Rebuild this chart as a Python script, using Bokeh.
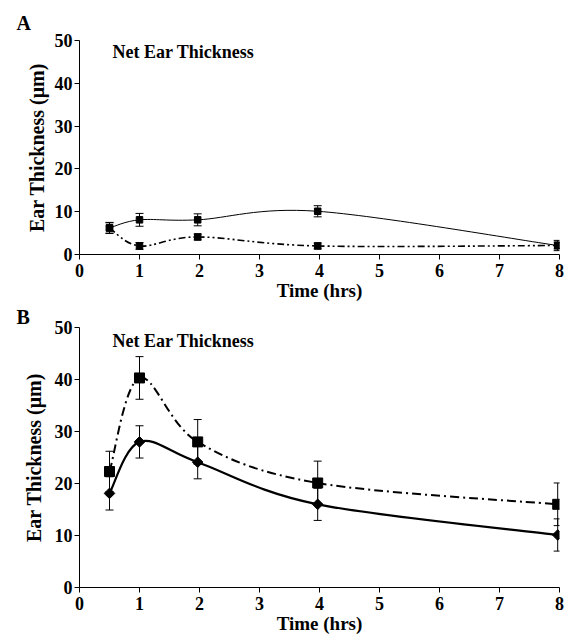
import math
from bokeh.plotting import figure
from bokeh.models import Whisker, ColumnDataSource, Label, FixedTicker, Range1d
from bokeh.layouts import column
from bokeh.embed import file_html
from bokeh.resources import INLINE

# ---------------- data ----------------
times = [0.5, 1.0, 1.97, 3.97, 7.97]

# Panel A
a_solid = [6.2, 8.1, 8.1, 10.1, 2.1]
a_solid_err = [1.3, 1.5, 1.4, 1.3, 1.2]
a_dash = [6.2, 2.0, 4.1, 2.0, 2.1]
a_dash_err = [1.2, 0.8, 0.7, 0.7, 0.8]

# Panel B
b_square = [22.3, 40.3, 28.0, 20.1, 16.0]
b_square_err = [3.9, 4.1, 4.3, 4.2, 4.1]
b_diamond = [18.1, 28.0, 24.1, 16.0, 10.1]
b_diamond_err = [3.2, 3.1, 3.2, 3.1, 3.1]

x_ticks = [0, 1, 2, 3, 4, 5, 6, 7, 8]
y_ticks = [0, 10, 20, 30, 40, 50]

FONT = "Liberation Serif"


def smooth_segments(xs, ys):
    """Bezier control points for a smoothed line through the data points."""
    n = len(xs)
    out = dict(x0=[], y0=[], x1=[], y1=[], cx0=[], cy0=[], cx1=[], cy1=[])
    for i in range(n - 1):
        xp, yp = (xs[i - 1], ys[i - 1]) if i > 0 else (xs[i], ys[i])
        xn, yn = (xs[i + 2], ys[i + 2]) if i + 2 < n else (xs[i + 1], ys[i + 1])
        out["x0"].append(xs[i]); out["y0"].append(ys[i])
        out["x1"].append(xs[i + 1]); out["y1"].append(ys[i + 1])
        out["cx0"].append(xs[i] + (xs[i + 1] - xp) / 6.0)
        out["cy0"].append(ys[i] + (ys[i + 1] - yp) / 6.0)
        out["cx1"].append(xs[i + 1] - (xn - xs[i]) / 6.0)
        out["cy1"].append(ys[i + 1] - (yn - ys[i]) / 6.0)
    return ColumnDataSource(out)


def make_fig(label, title_offset, title_standoff, text_y, height, left, top, bottom,
             ylab_standoff):
    p = figure(width=564, height=height, output_backend="svg", toolbar_location=None,
               title=label, x_range=Range1d(0, 8), y_range=Range1d(0, 50),
               min_border_left=left, min_border_right=5,
               min_border_top=top, min_border_bottom=bottom)
    # panel letter as the plot title, pulled to the left edge
    p.title.align = "left"
    p.title.offset = title_offset
    p.title.text_font = FONT
    p.title.text_font_size = "20px"
    p.title.text_font_style = "bold"
    p.title.text_color = "black"
    try:
        p.title.standoff = title_standoff
    except AttributeError:
        pass
    p.outline_line_color = None
    p.xgrid.grid_line_color = None
    p.ygrid.grid_line_color = None
    for ax in (p.xaxis[0], p.yaxis[0]):
        ax.axis_line_color = "black"
        ax.major_tick_line_color = "black"
        ax.minor_tick_line_color = None
        ax.major_tick_in = 0
        ax.major_tick_out = 5
        ax.major_label_text_font = FONT
        ax.major_label_text_font_size = "18px"
        ax.major_label_text_font_style = "bold"
        ax.major_label_text_color = "black"
        ax.axis_label_text_font = FONT
        ax.axis_label_text_font_style = "bold"
        ax.axis_label_text_color = "black"
    p.xaxis.ticker = FixedTicker(ticks=x_ticks)
    p.yaxis.ticker = FixedTicker(ticks=y_ticks)
    p.xaxis.axis_label = "Time (hrs)"
    p.yaxis.axis_label = "Ear Thickness (\u03bcm)"
    p.xaxis.axis_label_text_font_size = "19px"
    p.yaxis.axis_label_text_font_size = "20px"
    p.xaxis.major_label_standoff = 4
    p.yaxis.major_label_standoff = 2
    p.xaxis.axis_label_standoff = 0
    p.yaxis.axis_label_standoff = ylab_standoff
    p.add_layout(Label(x=0.55, y=text_y, text="Net Ear Thickness", text_font=FONT,
                       text_font_size="18px", text_font_style="bold",
                       text_baseline="alphabetic", text_color="black"))
    return p


def add_series(p, ys, errs, marker, size, angle, dash, width, cap):
    src = ColumnDataSource(dict(x=times, y=ys,
                                upper=[y + e for y, e in zip(ys, errs)],
                                lower=[y - e for y, e in zip(ys, errs)]))
    w = Whisker(base="x", upper="upper", lower="lower", source=src,
                line_color="black", line_width=1, level="glyph")
    w.upper_head.size = cap
    w.lower_head.size = cap
    w.upper_head.line_color = "black"
    w.lower_head.line_color = "black"
    p.add_layout(w)
    p.bezier(x0="x0", y0="y0", x1="x1", y1="y1", cx0="cx0", cy0="cy0",
             cx1="cx1", cy1="cy1", source=smooth_segments(times, ys),
             line_color="black", line_width=width, line_dash=dash)
    p.scatter(x="x", y="y", source=src, marker=marker, size=size, angle=angle,
              fill_color="black", line_color="black")


pA = make_fig("A", -63, 13, 47.2, 303, 77, 40, 47, 4)
add_series(pA, a_solid, a_solid_err, "square", 6.5, 0, "solid", 1, 8)
add_series(pA, a_dash, a_dash_err, "square", 6.5, 0, "7 3 2 3 2 3", 1.6, 8)

pB = make_fig("B", -63, 0, 47.5, 333, 79, 18, 49, 7)
add_series(pB, b_square, b_square_err, "square", 10, 0, "9 4 2 4", 2, 8)
add_series(pB, b_diamond, b_diamond_err, "square", 7.5, math.pi / 4, "solid", 2.2, 8)

layout = column(pA, pB)
open("out.html", "w").write(file_html(layout, INLINE))
